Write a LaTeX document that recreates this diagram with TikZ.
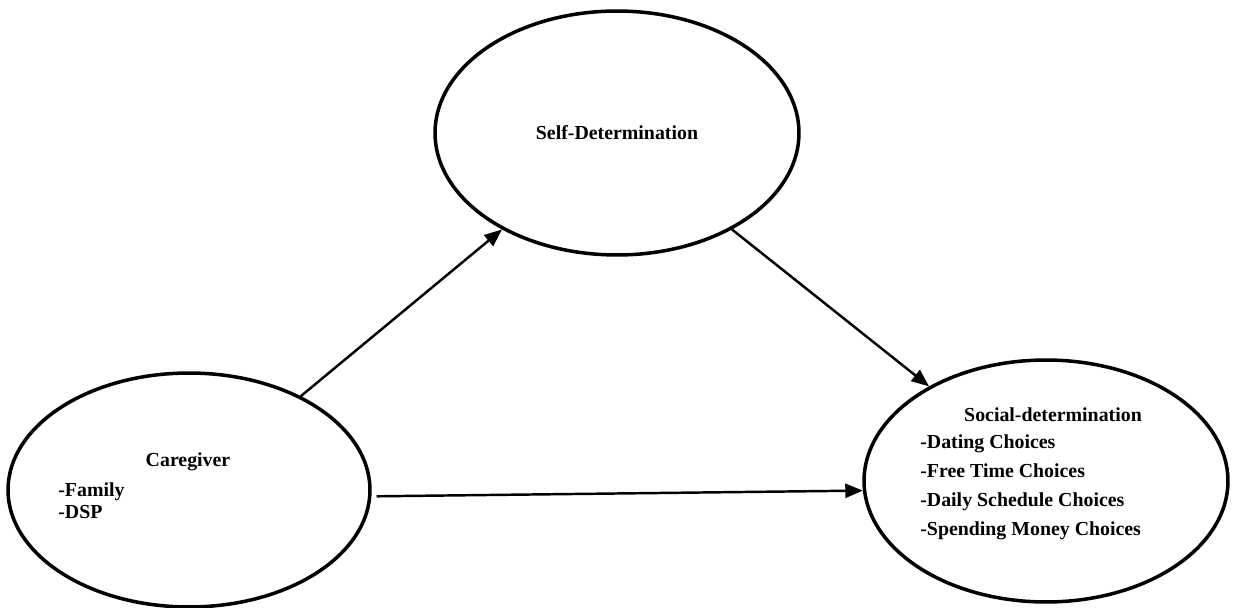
\documentclass[tikz,border=0pt]{standalone}
\usepackage{fontspec}
\setmainfont{Liberation Serif}
\usetikzlibrary{shapes.geometric,arrows.meta}

\tikzset{
  bubble/.style={ellipse,draw,line width=2pt,inner sep=0pt},
  link/.style={line width=1.4pt,-{Triangle[length=10pt,width=8pt]}},
  txt/.style={inner sep=0pt},
}

\begin{document}
\begin{tikzpicture}[x=0.02cm,y=-0.02cm,font=\bfseries\fontsize{11.3}{13}\selectfont]
\useasboundingbox (0,0) rectangle (1235,608);
% the three ellipses
\node[bubble,minimum width=7.28cm,minimum height=4.88cm] (self) at (617,133) {Self-Determination};
\node[bubble,minimum width=7.24cm,minimum height=4.68cm] (care) at (189,490) {};
\node[bubble,minimum width=7.28cm,minimum height=4.84cm] (social) at (1046,481) {};
% texts
\node[txt] (caretitle) at (188,462) {Caregiver};
\node[txt,anchor=west,align=left,font=\bfseries\fontsize{11.3}{12.4}\selectfont] (carelist) at (58,501) {-Family\\-DSP};
\node[txt] (socialtitle) at (1053,415) {Social-determination};
\node[txt,anchor=west,align=left,font=\bfseries\fontsize{11.3}{16.5}\selectfont] (sociallist) at (920,487)
  {-Dating Choices\\-Free Time Choices\\-Daily Schedule Choices\\-Spending Money Choices};
% arrows
\draw[link] (care.40) -- (self.220);
\draw[link] (self.320) -- (social.141);
\draw[link,shorten <=3pt] (care.-2) -- (social.183);
\end{tikzpicture}
\end{document}
